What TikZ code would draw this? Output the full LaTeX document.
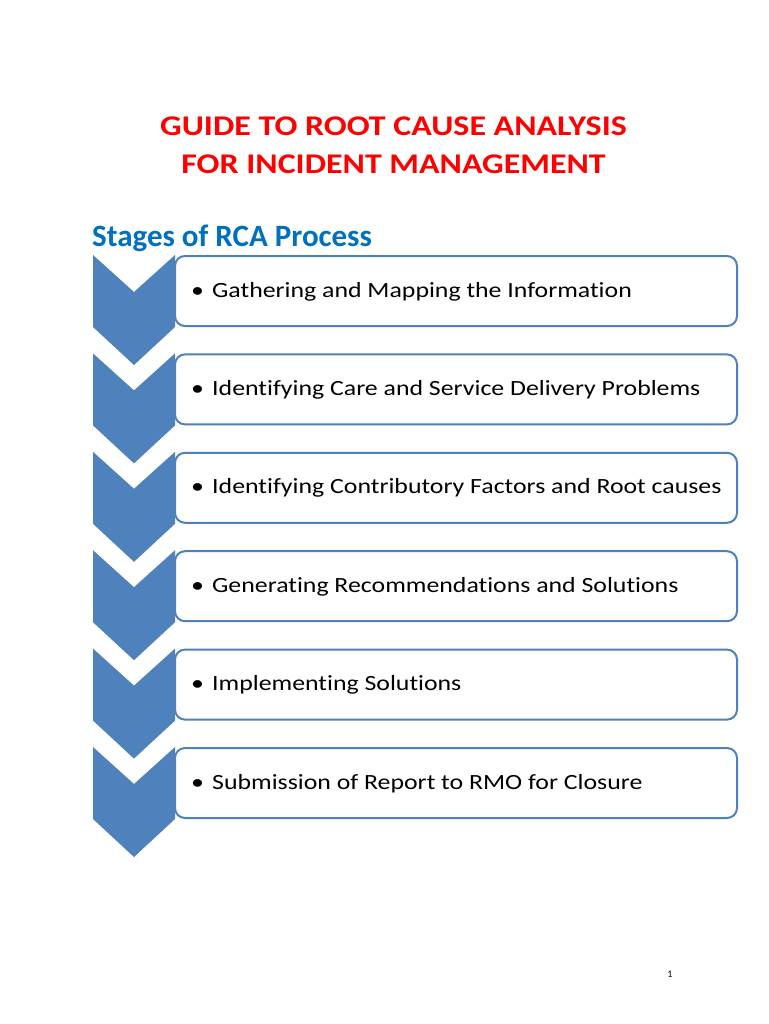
\documentclass[tikz,border=0pt]{standalone}
\usepackage{fontspec}
\setmainfont{Carlito}[Ligatures=NoCommon]
\newfontfamily\widefont{Carlito}[FakeStretch=1.19,Ligatures=NoCommon]
\usepackage{tikz}
\usetikzlibrary{positioning}
\usepackage{xcolor}
\definecolor{rcared}{HTML}{FF0000}
\definecolor{rcablue}{HTML}{0070C0}
\definecolor{chevblue}{HTML}{4F81BD}
\tikzset{
  chevron/.style={fill=chevblue,draw=none},
  stagebox/.style={draw=chevblue,line width=2pt,fill=white,rounded corners=10pt},
  stagetext/.style={anchor=base west,inner sep=0pt,font=\widefont\fontsize{21.7}{26}\selectfont},
  titletext/.style={anchor=base,inner sep=0pt,text=rcared,font=\widefont\fontsize{28.5}{39}\selectfont\bfseries},
}

\begin{document}
\begin{tikzpicture}[x=1pt,y=-1pt]
  \useasboundingbox[fill=white] (0,0) rectangle (768,1024);

  % Title
  \node[titletext] (title1) at (393.5,136) {GUIDE TO ROOT CAUSE ANALYSIS};
  \node[titletext] (title2) at (393.5,174) {FOR INCIDENT MANAGEMENT};
  \node[anchor=base west,inner sep=0pt,text=rcablue,font=\fontsize{31}{36}\selectfont\bfseries]
    (heading) at (92,247) {Stages of RCA Process};

  % Stages
  \foreach \i/\txt in {0/Gathering and Mapping the Information,
                       1/Identifying Care and Service Delivery Problems,
                       2/Identifying Contributory Factors and Root causes,
                       3/Generating Recommendations and Solutions,
                       4/Implementing Solutions,
                       5/Submission of Report to RMO for Closure} {
    \pgfmathsetmacro\ytop{255+98.4*\i}
    \draw[stagebox] (175,\ytop+1) rectangle (737,\ytop+71);
    \fill[chevron] (93,\ytop) -- (134,\ytop+37) -- (175,\ytop) -- (175,\ytop+72)
      -- (134,\ytop+110) -- (93,\ytop+72) -- cycle;
    \node[stagetext] (stage\i) at (191,\ytop+42) {\makebox[21pt][l]{\textbullet}\txt};
  }

  % Page number
  \node[anchor=base,inner sep=0pt,font=\fontsize{10}{12}\selectfont] (page) at (670,977) {1};
\end{tikzpicture}
\end{document}
